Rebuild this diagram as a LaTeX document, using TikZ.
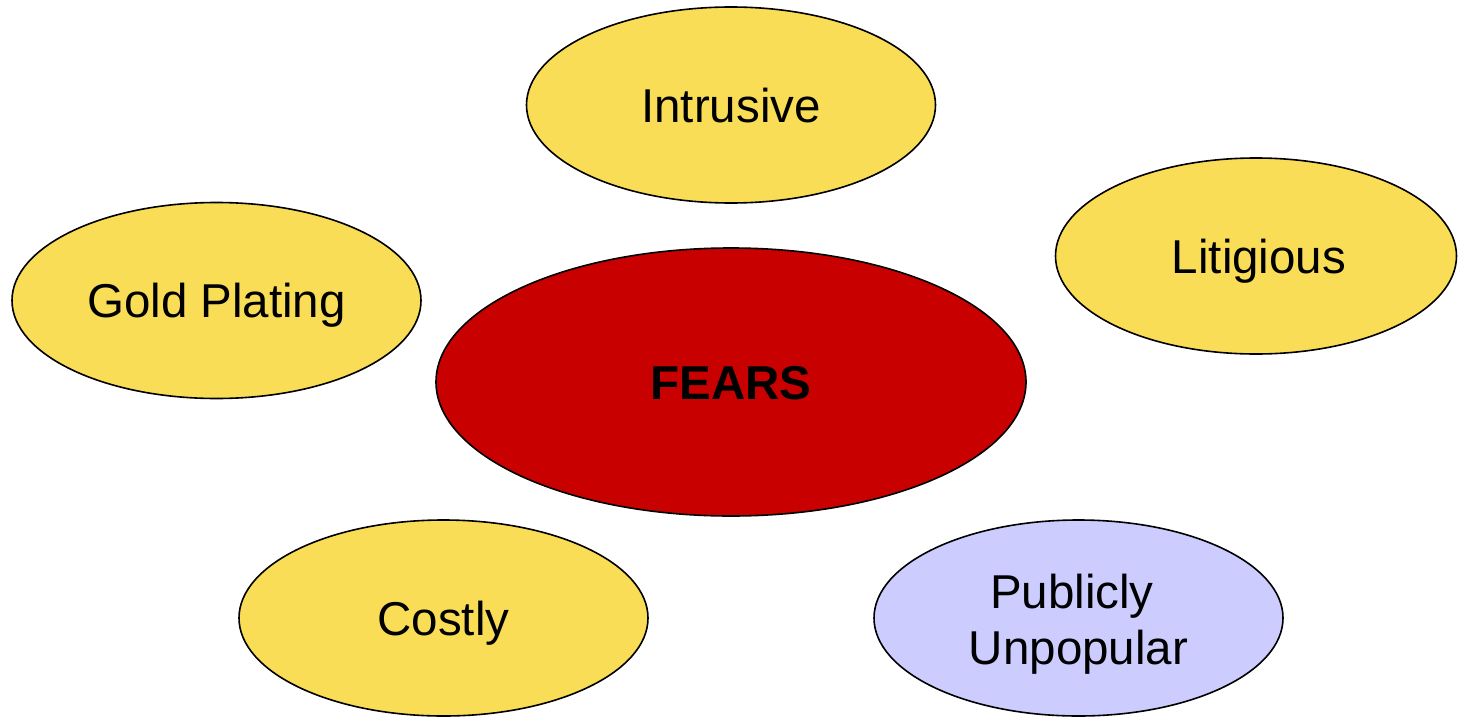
\documentclass[tikz,border=0pt]{standalone}
\usepackage{fontspec}
\setmainfont{Liberation Sans}
\usetikzlibrary{shapes.geometric}
\definecolor{fearyellow}{HTML}{F9DD57}
\definecolor{fearred}{HTML}{C80000}
\definecolor{fearlav}{HTML}{CCCCFF}
\begin{document}
\begin{tikzpicture}[x=1pt,y=-1pt,
  blob/.style={ellipse,draw=black,line width=1.6pt,inner sep=0pt,
    minimum width=409pt,minimum height=196pt,align=center,
    text height=34pt,text depth=-2pt,
    font=\fontsize{47.5}{56}\selectfont},
  yel/.style={blob,fill=fearyellow},
]
\useasboundingbox (0,0) rectangle (1458,717);
\node[yel] (intrusive) at (731,105) {Intrusive};
\node[yel,minimum width=401pt] (litigious) at (1256,256) {\rule{6pt}{0pt}Litigious};
\node[yel] (gold) at (216.5,300.5) {Gold Plating};
\node[blob,fill=fearred,minimum width=590pt,minimum height=268pt,
  font=\fontsize{47.5}{56}\selectfont\bfseries] (fears) at (731,382) {FEARS};
\node[yel] (costly) at (443.5,618) {Costly};
\node[blob,fill=fearlav,text height=92pt,text depth=0pt] (public) at (1078.5,618) {Publicly\rule{0.278em}{0pt}\\Unpopular};
\end{tikzpicture}
\end{document}
